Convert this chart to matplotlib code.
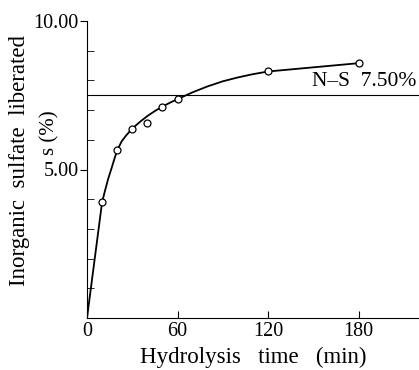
import matplotlib.pyplot as plt
from matplotlib.ticker import MultipleLocator

plt.rcParams['font.family'] = ['Liberation Serif', 'DejaVu Serif']

# measured points (min, %)
time_pts = [10, 20, 30, 40, 50, 60, 120, 180]
sulfate_pts = [3.9, 5.65, 6.36, 6.57, 7.1, 7.37, 8.3, 8.58]

# hand drawn curve
curve_t = [0, 10, 12, 14, 16, 18, 20, 23, 26, 30, 35, 40, 45, 50, 55, 60,
           70, 80, 90, 100, 110, 120, 180]
curve_s = [0, 3.9, 4.3, 4.68, 5.0, 5.33, 5.65, 5.95, 6.15, 6.38, 6.6, 6.8,
           6.97, 7.12, 7.25, 7.37, 7.6, 7.8, 7.97, 8.1, 8.21, 8.3, 8.58]

ns_level = 7.50

W, H = 419, 370
fig = plt.figure(figsize=(W / 100, H / 100), dpi=100)
ax = fig.add_axes([87 / W, 52 / H, 1 - 87 / W, 297 / H])

ax.plot(curve_t, curve_s, color='black', lw=1.3, zorder=2)
ax.plot(time_pts, sulfate_pts, 'o', ms=5, mfc='white', mec='black', mew=0.9, zorder=3)
ax.axhline(ns_level, color='black', lw=0.8, zorder=1)
ax.text(218, ns_level + 0.15, 'N\u2013S  7.50%', ha='right', va='bottom', fontsize=15.5)

ax.set_xlim(0, 220)
ax.set_ylim(0, 10)
ax.spines['top'].set_visible(False)
ax.spines['right'].set_visible(False)
ax.spines['left'].set_bounds(0, 10)

ax.set_xticks([0, 60, 120, 180])
ax.set_xticklabels(['0', '60', '120', '180'])
ax.set_yticks([5, 10])
ax.set_yticklabels(['5.00', '10.00'])
ax.yaxis.set_minor_locator(MultipleLocator(1))
ax.tick_params(axis='both', which='both', direction='in', labelsize=14.5)
ax.tick_params(axis='y', which='major', length=5, direction='out', pad=1)
ax.tick_params(axis='y', which='minor', length=5, direction='in')
ax.tick_params(axis='x', which='major', length=5, pad=3)

ax.set_xlabel('Hydrolysis   time   (min)', fontsize=16.5, labelpad=4)

# y label, two lines placed like the original
fig.text(20 / W, 1 - 161 / H, 'Inorganic  sulfate  liberated', rotation=90,
         ha='center', va='center', fontsize=16.5)
fig.text(50 / W, 1 - 133 / H, 's (%)', rotation=90,
         ha='center', va='center', fontsize=15)

fig.savefig('out.png', dpi=100)
